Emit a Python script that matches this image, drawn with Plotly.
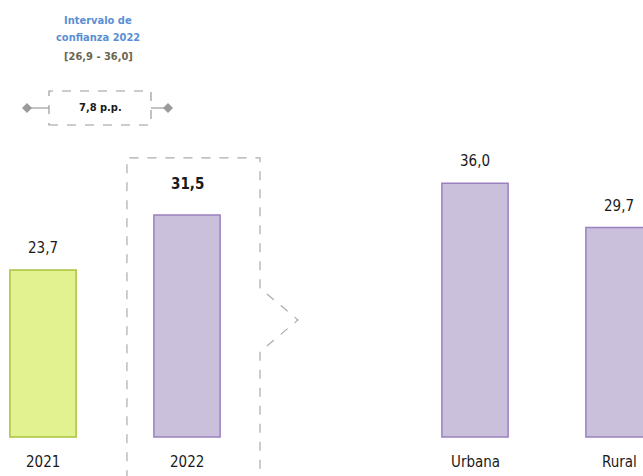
import plotly.graph_objects as go

# data
categories = ["2021", "2022", "Urbana", "Rural"]
positions = [0, 1, 3, 4]
values = [23.7, 31.5, 36.0, 29.7]
ci_2022 = [26.9, 36.0]
diff_pp = round(values[1] - values[0], 1)

fill_colors = ["#e3f290", "#cbc0dc", "#cbc0dc", "#cbc0dc"]
line_colors = ["#a9c43c", "#9a80bf", "#9a80bf", "#9a80bf"]

FONT = "Liberation Sans Narrow, DejaVu Sans Condensed, Roboto Condensed, Liberation Sans, Arial"

W, H = 643, 476


def px(x):
    return x / W


def py(y):
    return 1 - y / H


def fmt(v):
    return f"{v:.1f}".replace(".", ",")


fig = go.Figure(go.Bar(
    x=positions, y=values, width=0.46,
    marker=dict(color=fill_colors, line=dict(color=line_colors, width=1.5)),
    hoverinfo="skip",
))

# value labels above bars and category labels below
for p, v, c in zip(positions, values, categories):
    bold = c == "2022"
    fig.add_annotation(x=p, y=v, text=f"<b>{fmt(v)}</b>" if bold else fmt(v),
                       showarrow=False, yanchor="bottom", yshift=20 if bold else 11,
                       font=dict(size=15, color="#1a1a1a"))
    fig.add_annotation(x=p, y=0, text=c, showarrow=False, yanchor="top", yshift=-14,
                       font=dict(size=15, color="#1a1a1a"))

# dashed outline around 2022 with notch
dash = dict(color="#ababab", width=1.2, dash="dash")
fig.add_shape(type="path", xref="x", yref="y", line=dash,
              path="M 0.583,-6 L 0.583,39.6 L 1.507,39.6 L 1.507,21.1 "
                   "L 1.771,16.6 L 1.507,12.1 L 1.507,-6")

# confidence interval header
for txt, yy, col in [("Intervalo de", 21, "#5b8fd3"), ("confianza 2022", 38, "#5b8fd3"),
                     (f"[{fmt(ci_2022[0])} - {fmt(ci_2022[1])}]", 56, "#6b6650")]:
    fig.add_annotation(xref="paper", yref="paper", x=px(98), y=py(yy),
                       xanchor="center", yanchor="middle",
                       text=f"<b>{txt}</b>", showarrow=False,
                       font=dict(size=11, color=col))

# difference box
yl = py(108)
fig.add_shape(type="rect", xref="paper", yref="paper",
              x0=px(49), x1=px(151), y0=py(125), y1=py(91),
              line=dict(color="#9a9a9a", width=1.2, dash="dash"))
fig.add_annotation(xref="paper", yref="paper", x=px(100), y=yl,
                   xanchor="center", yanchor="middle",
                   text=f"<b>{fmt(diff_pp)} p.p.</b>", showarrow=False,
                   font=dict(size=11, color="#1a1a1a"))
for xa, xb in [(27, 49), (151, 168)]:
    fig.add_shape(type="line", xref="paper", yref="paper",
                  x0=px(xa), x1=px(xb), y0=yl, y1=yl,
                  line=dict(color="#9a9a9a", width=1.2))
for xd in [27, 168]:
    dx, dy = 5 / W, 5 / H
    cx = px(xd)
    fig.add_shape(type="path", xref="paper", yref="paper", line=dict(width=0),
                  fillcolor="#9a9a9a",
                  path=f"M {cx - dx},{yl} L {cx},{yl + dy} L {cx + dx},{yl} L {cx},{yl - dy} Z")

# x: data 0 at px 43, 144 px per unit; y: baseline at px 437, 7.05 px per unit
x0 = -43 / 144
y0 = -(H - 437) / 7.05
fig.update_layout(
    width=W, height=H,
    margin=dict(l=0, r=0, t=0, b=0),
    paper_bgcolor="white", plot_bgcolor="white",
    font=dict(family=FONT),
    showlegend=False,
    xaxis=dict(range=[x0, x0 + W / 144], visible=False, fixedrange=True),
    yaxis=dict(range=[y0, y0 + H / 7.05], visible=False, fixedrange=True),
)

fig.write_html("out.html", config={"displayModeBar": False},
               post_script="document.body.style.margin='0px';")
